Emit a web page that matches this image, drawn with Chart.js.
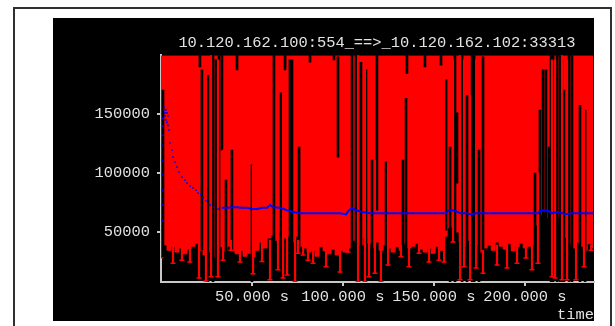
<!DOCTYPE html>
<html>
<head>
<meta charset="utf-8">
<script src="https://cdn.jsdelivr.net/npm/chart.js@4.4.1/dist/chart.umd.min.js"></script>
<style>
  html, body { margin: 0; padding: 0; background: #fff; }
  #wrap { width: 615px; height: 326px; }
</style>
</head>
<body>
<div id="wrap"><canvas id="plot" width="615" height="326"></canvas></div>
<script>
const titleText = '10.120.162.100:554_==>_10.120.162.102:33313';
const xTitle = 'time';

// tick positions (seconds / values) and their labels
const xTickValues = [50000, 100000, 150000, 200000];
const xTickLabels = ['50.000 s', '100.000 s', '150.000 s', '200.000 s'];
const yTickValues = [50000, 100000, 150000];
const yTickLabels = ['50000', '100000', '150000'];

// lower edge of the dense red band (sample time, min value)
const envTime = [0, 2200, 4400, 6600, 8800, 11000, 13200, 15400, 17600, 19800,
  22000, 24200, 26400, 28600, 30800, 33000, 35200, 37400, 39600, 41800,
  44000, 46200, 48400, 50600, 52800, 55000, 57200, 59400, 61600, 63800,
  66000, 68200, 70400, 72600, 74800, 77000, 79200, 81400, 83600, 85800,
  88000, 90200, 92400, 94600, 96800, 99000, 101200, 103400, 105600, 107800,
  110000, 112200, 114400, 116600, 118800, 121000, 123200, 125400, 127600, 129800,
  132000, 134200, 136400, 138600, 140800, 143000, 145200, 147400, 149600, 151800,
  154000, 156200, 158400, 160600, 162800, 165000, 167200, 169400, 171600, 173800,
  176000, 178200, 180400, 182600, 184800, 187000, 189200, 191400, 193600, 195800,
  198000, 200200, 202400, 204600, 206800, 209000, 211200, 213400, 215600, 217800,
  220000, 222200, 224400, 226600, 228800, 231000, 233200, 235400, 237600];
const envLow = [28000, 39000, 34500, 38000, 33000, 36500, 31500, 35500, 38000, 40500,
  34500, 30500, 33000, 29000, 32000, 37500, 34500, 38000, 34000, 31500,
  34500, 29500, 32000, 29000, 34500, 41500, 36500, 45000, 47500, 43000,
  50000, 45000, 46500, 41500, 46500, 38000, 36500, 33000, 34500, 29500,
  37500, 34000, 31500, 35500, 30500, 34500, 33000, 36500, 43000, 46500,
  39000, 45000, 40500, 36500, 41500, 34500, 39000, 36500, 33000, 37500,
  34500, 40000, 36500, 38000, 40500, 35500, 33000, 36500, 32000, 38000,
  34500, 46500, 53500, 55000, 50000, 41500, 38000, 43000, 35500, 39000,
  33000, 36500, 39000, 34500, 41500, 38000, 35500, 40000, 34000, 37500,
  40500, 36500, 38000, 39000, 56000, 64500, 67000, 62000, 58500, 63500,
  55000, 45000, 40000, 36500, 41500, 38000, 34500, 40000, 36500];

// samples whose range stays below the top (dark stripes)
const gapTime = [1100, 21400, 22500, 25800, 28600, 30200, 31900, 33500, 35700, 39000,
  41800, 50000, 62100, 66000, 68200, 70900, 72000, 75900, 81900, 95100,
  97300, 105000, 107200, 109900, 112700, 116000, 118700, 123700, 133000, 134700,
  135200, 145100, 153900, 156700, 158900, 161600, 162700, 165500, 168200, 171000,
  172100, 174800, 177000, 205600, 208300, 210000, 211600, 213300, 214400, 215500,
  217700, 219300, 220400, 221500, 224300, 225900, 230300, 233100];
const gapFrom = [29000, 190000, 34500, 7600, 7600, 13500, 34500, 119500, 26000, 26000,
  187500, 7600, 9500, 11000, 187500, 11000, 11000, 9500, 194000, 196000,
  113500, 9500, 9500, 34500, 11000, 11000, 68500, 9500, 29000, 9500,
  184500, 190000, 191500, 51500, 7600, 7600, 91500, 7600, 7600, 7600,
  7600, 7600, 34500, 9500, 9500, 9500, 9500, 9500, 7600, 7600,
  7600, 7600, 7600, 7600, 7600, 7600, 7600, 7600];
const gapTo = [170500, 200000, 187500, 183000, 200000, 196000, 200000, 200000, 94000, 119500,
  200000, 107000, 200000, 168000, 200000, 196000, 196000, 122000, 200000, 200000,
  198500, 200000, 200000, 194000, 187500, 111000, 200000, 109500, 111000, 163500,
  200000, 200000, 200000, 179000, 122000, 200000, 151000, 200000, 166000, 200000,
  200000, 119500, 198500, 100000, 153500, 187500, 187500, 122000, 200000, 200000,
  200000, 200000, 196000, 170500, 200000, 200000, 157500, 153500];

// single error bars reaching below the band (time, low end, high end)
const barTime = [6600, 11500, 15900, 20900, 24700, 27500, 31300, 34100, 38500, 43400,
  50600, 55500, 59900, 64300, 67100, 69300, 73700, 75300, 78100, 80800,
  83600, 90700, 98400, 102800, 108300, 112100, 114300, 117600, 120900, 124800,
  131900, 136300, 141800, 147300, 152800, 155600, 160500, 164400, 166600, 169900,
  173200, 177000, 184700, 190200, 195700, 200600, 203900, 207200, 214900, 216600,
  220400, 223200, 228100, 232500, 236400];
const barLow = [23500, 26000, 24500, 11000, 8500, 12000, 12000, 26000, 34500, 24500,
  14500, 25000, 9500, 18000, 11000, 13500, 8000, 32000, 30500, 26000,
  23500, 20500, 16000, 33000, 8000, 8000, 12000, 15000, 8000, 22000,
  29000, 20500, 32000, 24500, 26000, 24500, 41500, 9500, 20500, 9500,
  19500, 15000, 22000, 19500, 23500, 28000, 18000, 23500, 12000, 11000,
  9500, 9500, 9500, 20500, 34500];
const barHigh = [39000, 39000, 39000, 43000, 183000, 200000, 196000, 119500, 43000, 39000,
  107000, 41500, 43000, 196000, 168000, 187500, 196000, 43000, 39000, 39000,
  39000, 36500, 111000, 39000, 200000, 196000, 187500, 111000, 77000, 109500,
  39000, 162000, 40500, 39000, 39000, 179000, 196000, 200000, 196000, 166000,
  196000, 34500, 39000, 39000, 39000, 39000, 39000, 100000, 196000, 196000,
  200000, 196000, 162000, 153500, 39000];

// blue series: early scattered samples, then the settled curve
const riseTime = [0, 0, 550, 550, 550, 550, 550, 550, 1100, 1100, 1100, 1600, 1600,
  2200, 2200, 2700, 2700, 3300, 3300, 3800, 3800, 4400, 4900, 6000, 6600, 7700,
  8800, 9900, 11500, 13200, 14300, 15900, 17600, 19200, 20300, 22000, 23100,
  24700, 26900, 29100, 31300];
const riseValue = [29000, 51500, 60000, 73000, 85500, 98500, 111000, 123500, 132000, 140000,
  146500, 153500, 156000, 151000, 148500, 153500, 145000, 151000, 143000, 140500,
  148500, 136500, 125500, 119500, 113500, 109500, 105000, 101000, 96500, 94000,
  91500, 89000, 87500, 85500, 83000, 81500, 79000, 76500, 73000, 71000, 69500];
const flatTime = [33500, 36300, 39000, 41800, 44500, 47300, 50000, 52800, 55500, 58300,
  59900, 61600, 65400, 69300, 72600, 76400, 81900, 87400, 92900, 98400,
  101700, 103300, 105000, 107200, 110500, 114900, 120400, 125900, 131400, 136900,
  142400, 147900, 153400, 156700, 157800, 159400, 161600, 164400, 167700, 169900,
  173200, 180900, 186300, 191800, 197300, 202800, 207200, 208900, 210500, 212700,
  214900, 218200, 220400, 222600, 225900, 230300, 238000];
const flatValue = [70500, 70500, 71000, 71000, 70500, 70500, 69500, 69500, 70500, 70500,
  73000, 71000, 70500, 68500, 67000, 66000, 66000, 66000, 66000, 66000,
  65000, 68500, 70500, 68500, 67000, 66000, 66000, 66000, 66000, 66000,
  66000, 66000, 66000, 66000, 68000, 68500, 68000, 66000, 66000, 65000,
  66000, 66000, 66000, 66000, 66000, 66000, 66000, 68000, 68500, 68000,
  66000, 67000, 66000, 65000, 66000, 66000, 66000];

const red = '#ff0000';
const blue = '#0000ff';
const axis_color = '#c8c8c8';
const text_color = '#e2e2e2';

Chart.defaults.font.family = "'Liberation Mono', 'DejaVu Sans Mono', monospace";
Chart.defaults.font.size = 15.4;
Chart.defaults.color = text_color;

// white page, thin frame and the black panel behind the plot
const panelBackground = {
  id: 'panelBackground',
  beforeDraw(chart) {
    const ctx = chart.ctx;
    ctx.save();
    ctx.fillStyle = '#ffffff';
    ctx.fillRect(0, 0, chart.width, chart.height);
    ctx.strokeStyle = '#303030';
    ctx.lineWidth = 2;
    ctx.strokeRect(14, 8, 597, 340);
    ctx.fillStyle = '#000000';
    ctx.fillRect(53, 18, chart.chartArea.right - 53, 303);
    ctx.restore();
  }
};

function pairs(xs, ys) { return xs.map((x, i) => ({ x: x, y: ys[i] })); }
function ranges(xs, lo, hi) { return xs.map((x, i) => ({ x: x, y: [lo[i], hi[i]] })); }

const data = {
  datasets: [
    { type: 'line', data: pairs(flatTime, flatValue), borderColor: blue, borderWidth: 2,
      pointRadius: 0, fill: false, tension: 0, order: 0 },
    { type: 'scatter', data: pairs(riseTime, riseValue), pointStyle: 'rect', pointRadius: 1.2,
      backgroundColor: blue, borderWidth: 0, order: 1 },
    { type: 'scatter', data: pairs(barTime, barLow), pointStyle: 'line', pointRadius: 2.5,
      borderColor: red, borderWidth: 1.5, order: 2 },
    { type: 'bar', data: ranges(barTime, barLow, barHigh), backgroundColor: red,
      barThickness: 1.5, grouped: false, borderWidth: 0, order: 3 },
    { type: 'bar', data: ranges(gapTime, gapFrom, gapTo), backgroundColor: '#000000',
      barThickness: 2, grouped: false, borderWidth: 0, order: 4 },
    { type: 'line', data: pairs(envTime, envLow), stepped: 'middle', fill: 'end',
      backgroundColor: red, borderColor: red, borderWidth: 1, pointRadius: 0, order: 5 }
  ]
};

const options = {
  responsive: false,
  animation: false,
  devicePixelRatio: 1,
  layout: { padding: { left: 0, right: 21, top: 0, bottom: 0 } },
  plugins: {
    legend: { display: false },
    tooltip: { enabled: false },
    title: {
      display: true, text: titleText + '  ', align: 'end', color: text_color,
      font: { weight: 'normal' }, padding: { top: 33.3, bottom: 3.4 }
    }
  },
  scales: {
    x: {
      type: 'linear', min: 0, max: 238000, offset: false,
      afterFit: s => { s.height = 44; },
      afterBuildTicks: s => { s.ticks = xTickValues.map(v => ({ value: v })); },
      ticks: { padding: 2, maxRotation: 0, autoSkip: false, color: text_color,
        callback: (v, i) => xTickLabels[i] },
      grid: { offset: false, drawOnChartArea: false, drawTicks: true, tickLength: 4,
        color: axis_color, lineWidth: 2 },
      border: { display: true, color: axis_color, width: 2 },
      title: { display: true, text: xTitle, align: 'end', color: text_color,
        padding: { top: 0, bottom: 2 } }
    },
    y: {
      type: 'linear', min: 7600, max: 200000,
      afterFit: s => { s.width = 161; },
      afterBuildTicks: s => { s.ticks = yTickValues.map(v => ({ value: v })); },
      ticks: { padding: 7, color: text_color, callback: (v, i) => yTickLabels[i] },
      grid: { drawOnChartArea: false, drawTicks: true, tickLength: 4,
        color: axis_color, lineWidth: 2 },
      border: { display: true, color: axis_color, width: 2 }
    }
  }
};

new Chart(document.getElementById('plot'), { type: 'scatter', data: data, options: options,
  plugins: [panelBackground] });
</script>
</body>
</html>
